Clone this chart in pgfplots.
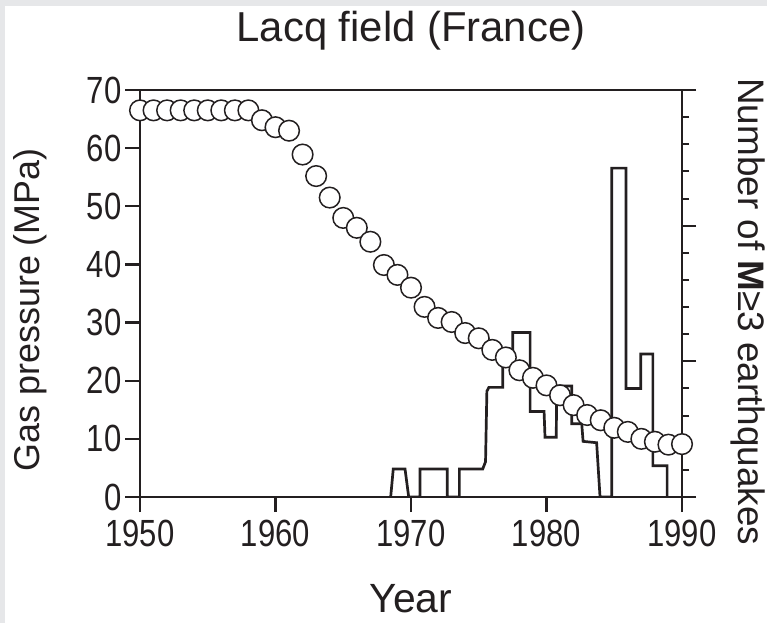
\documentclass[border=0pt]{standalone}
\usepackage{fontspec}
\setmainfont{Liberation Sans}
\usepackage{pgfplots}
\pgfplotsset{compat=1.18}
\definecolor{ink}{HTML}{231F20}
\definecolor{framegray}{HTML}{E6E7E9}

\begin{document}
\begin{tikzpicture}
\fill[framegray] (0bp,0bp) rectangle (767bp,623bp);
\fill[white] (5bp,0bp) rectangle (767bp,617bp);
\useasboundingbox (0bp,0bp) rectangle (767bp,623bp);

% Earthquake counts (right axis)
\begin{axis}[
  at={(140bp,126bp)}, anchor=south west, scale only axis,
  width=542bp, height=407bp,
  xmin=1950, xmax=1990, ymin=0, ymax=15,
  hide x axis,
  axis y line*=right,
  y axis line style={-, ink, line width=2.4bp},
  ytick={0,5,10,15},
  minor ytick={1,2,3,4,6,7,8,9,11,12,13,14},
  yticklabels={},
  tick align=outside,
  major tick length=14bp, minor tick length=7bp,
  tick style={ink, line width=2bp},
  ylabel={Number of \textbf{M}≥3 earthquakes},
  ylabel style={at={(axis description cs:1.1033,0.455)}, anchor=base, rotate=180,
    font=\fontsize{37}{40}\selectfont, text=ink},
]
\addplot[ink, line width=2.7bp, line join=miter] coordinates {
(1968.50,0) (1968.69,1.03) (1969.56,1.03) (1969.83,0)
(1970.66,0) (1970.66,1.03) (1972.68,1.03) (1972.68,0)
(1973.57,0) (1973.57,1.03) (1975.29,1.03) (1975.50,1.3) (1975.60,3.9) (1975.75,4.04)
(1976.77,4.04) (1976.77,4.95) (1977.51,4.95) (1977.51,6.06) (1978.79,6.06)
(1978.79,3.15) (1979.82,3.15) (1979.89,2.2) (1980.72,2.2) (1980.75,4.09)
(1981.86,4.09) (1981.86,2.7) (1982.60,2.7) (1982.70,2.05) (1983.70,2.0) (1983.95,0)
(1984.81,0) (1984.81,12.12) (1985.87,12.12) (1985.87,4.0) (1986.95,4.0)
(1986.95,5.27) (1987.85,5.27) (1987.85,1.15) (1988.90,1.15) (1988.90,0)
};
\end{axis}

% Gas pressure (left axis)
\begin{axis}[
  at={(140bp,126bp)}, anchor=south west, scale only axis,
  width=542bp, height=407bp,
  xmin=1950, xmax=1990, ymin=0, ymax=70,
  clip=false,
  axis line style={ink, line width=2.4bp},
  xtick={1950,1960,1970,1980,1990},
  ytick={0,10,20,30,40,50,60,70},
  xtick pos=left, ytick pos=left,
  tick align=outside,
  major tick length=15bp,
  tick style={ink, line width=2.2bp},
  /pgf/number format/assume math mode=true,
  /pgf/number format/1000 sep={},
  xticklabel={\scalebox{0.82}[1]{\pgfmathprintnumber{\tick}}},
  yticklabel={\scalebox{0.82}[1]{\pgfmathprintnumber{\tick}}},
  tick label style={font=\fontsize{38}{40}\selectfont, text=ink},
  xticklabel style={yshift=-5bp},
  xlabel={Year},
  xlabel style={at={(axis description cs:0.5,0)}, anchor=base, yshift=-115bp,
    font=\fontsize{41}{44}\selectfont, text=ink},
  ylabel={Gas pressure (MPa)},
  ylabel style={at={(axis description cs:-0.1863,0.46)}, anchor=base,
    font=\fontsize{36}{40}\selectfont, text=ink},
  title={Lacq field (France)},
  title style={at={(axis description cs:0.5,1)}, anchor=base, yshift=43bp,
    font=\fontsize{42}{46}\selectfont, text=ink},
]
\addplot[only marks, mark=*, mark size=10.3bp,
  mark options={fill=white, draw=ink, line width=1.5bp}] coordinates {
(1950,66.5) (1951,66.5) (1952,66.5) (1953,66.5) (1954,66.5) (1955,66.5)
(1956,66.5) (1957,66.5) (1958,66.5) (1959,64.8) (1960,63.6) (1961,63.0)
(1962,58.9) (1963,55.2) (1964,51.5) (1965,48.0) (1966,46.3) (1967,43.9)
(1968,39.9) (1969,38.2) (1970,36.0) (1971,32.7) (1972,30.8) (1973,30.1)
(1974,28.2) (1975,27.3) (1976,25.3) (1977,24.0) (1978,21.8) (1979,20.5)
(1980,19.2) (1981,17.5) (1982,15.8) (1983,14.1) (1984,13.2) (1985,11.9)
(1986,11.2) (1987,10.0) (1988,9.5) (1989,9.0) (1990,9.1)
};
\end{axis}
\end{tikzpicture}
\end{document}
